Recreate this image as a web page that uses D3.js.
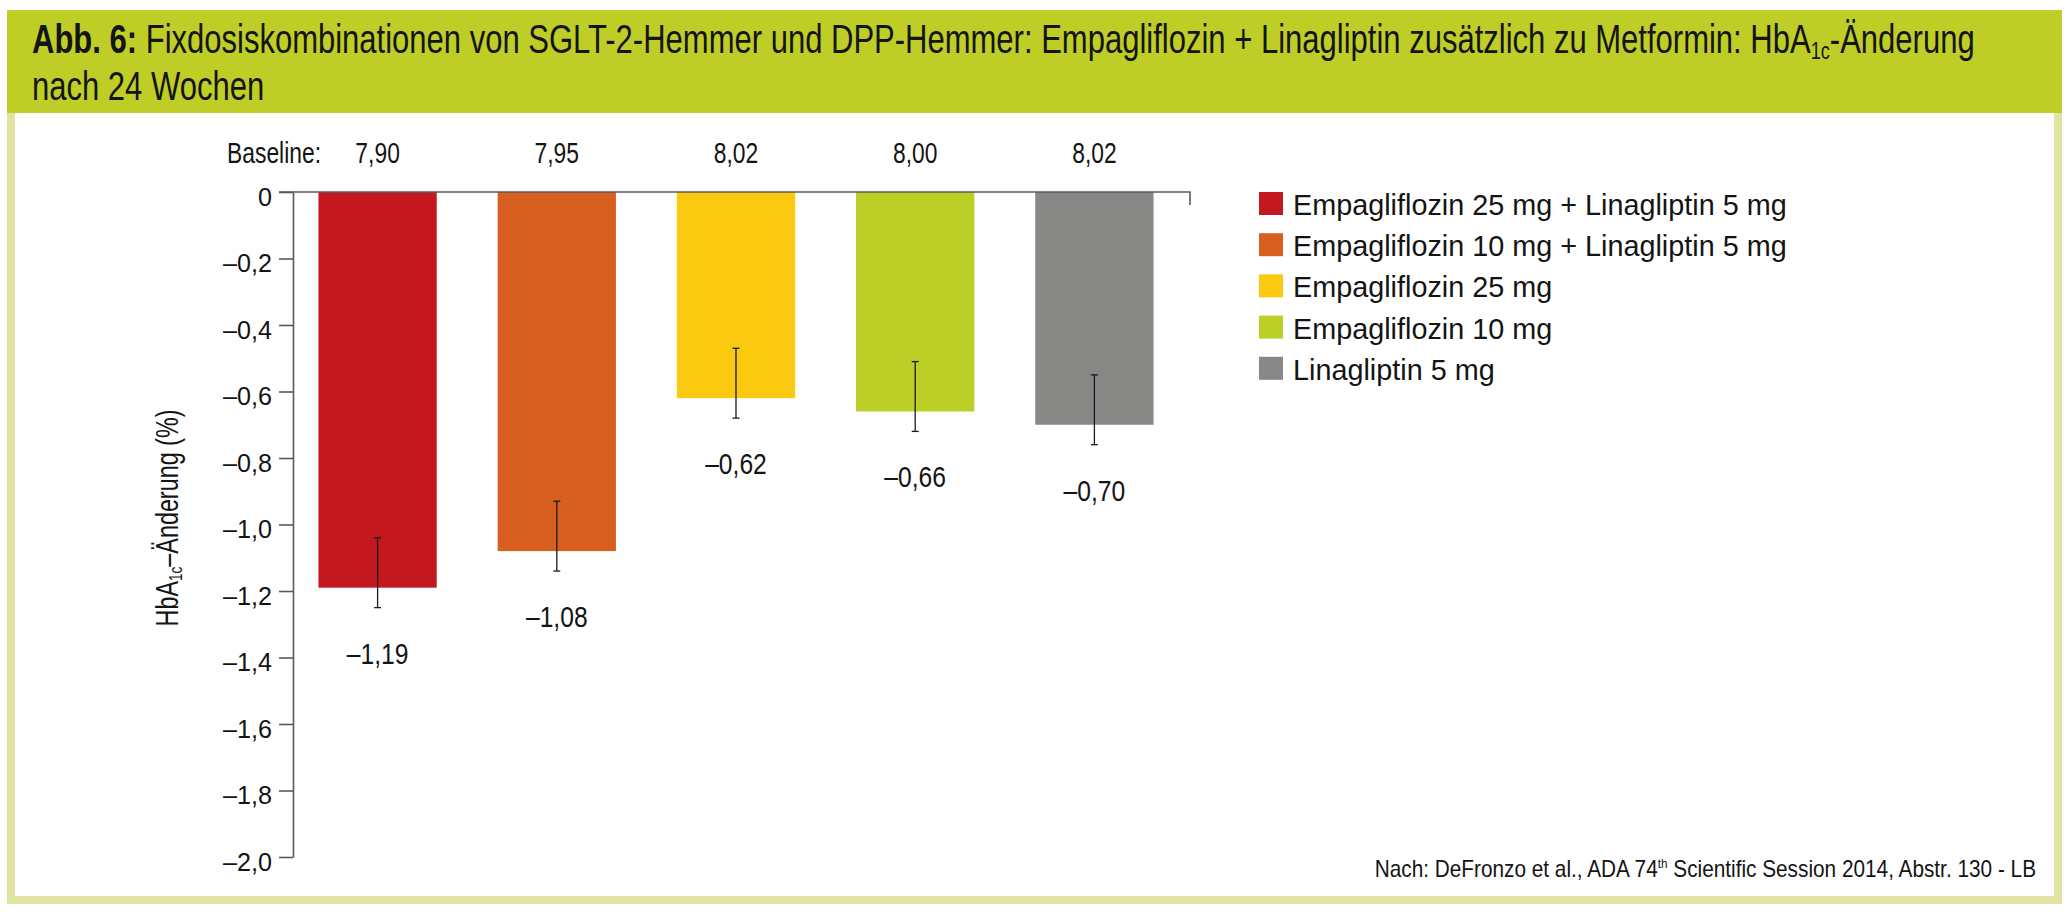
<!DOCTYPE html>
<html>
<head>
<meta charset="utf-8">
<script src="https://cdn.jsdelivr.net/npm/d3@7"></script>
<style>
  html, body { margin: 0; padding: 0; background: #ffffff; }
  svg { display: block; }
  text { fill: #141414; font-family: "Liberation Sans Narrow", "Liberation Sans", Arial, sans-serif; }
  .title text { font-size: 41px; }
  .legend text { font-size: 30px; }
  .base text { font-size: 30px; }
  .val text { font-size: 29px; }
  .foot text { font-size: 23px; }
  .ylab text { font-size: 31px; }
  .yaxis text { font-size: 26.5px; font-family: "Liberation Sans Narrow", "Liberation Sans", Arial, sans-serif; fill: #141414; }
</style>
</head>
<body>
<script>
// ---------------- data ----------------
const categories = [
  "Empagliflozin 25 mg + Linagliptin 5 mg",
  "Empagliflozin 10 mg + Linagliptin 5 mg",
  "Empagliflozin 25 mg",
  "Empagliflozin 10 mg",
  "Linagliptin 5 mg"
];
const changes   = [-1.19, -1.08, -0.62, -0.66, -0.70];
const baselines = [7.90, 7.95, 8.02, 8.00, 8.02];
const errLow    = [-1.25, -1.14, -0.68, -0.72, -0.76];
const errHigh   = [-1.04, -0.93, -0.47, -0.51, -0.55];
const yTicks    = [0, -0.2, -0.4, -0.6, -0.8, -1.0, -1.2, -1.4, -1.6, -1.8, -2.0];
const barColors = ["#c3181f", "#d95f20", "#fbc90f", "#bccf26", "#878785"];

// ---------------- setup ----------------
const W = 2072, H = 915;
const svg = d3.select("body").append("svg").attr("width", W).attr("height", H);

const fmtDec = (v, n) => (v < 0 ? "\u2013" : "") + Math.abs(v).toFixed(n).replace(".", ",");

// frame + title band
svg.append("rect").attr("x", 11).attr("y", 109).attr("width", 2047).attr("height", 791)
  .attr("fill", "none").attr("stroke", "#dfe5a0").attr("stroke-width", 8);
svg.append("rect").attr("x", 7).attr("y", 10).attr("width", 2055).attr("height", 103)
  .attr("fill", "#bfce26");

// helper for horizontally condensed labels
function lbl(cls, x, y, anchor, extra) {
  const g = svg.append("g").attr("class", "lbl " + cls)
    .datum({ x: x, y: y, extra: extra || "" })
    .attr("transform", `translate(${x},${y})${extra || ""}`);
  return g.append("text").attr("text-anchor", anchor || "start");
}

// ---------------- title ----------------
const t1 = lbl("title", 32, 53, "start");
t1.append("tspan").attr("font-weight", "bold").text("Abb. 6:");
t1.append("tspan").text(" Fixdosiskombinationen von SGLT-2-Hemmer und DPP-Hemmer: Empagliflozin + Linagliptin zus\u00e4tzlich zu Metformin: HbA");
t1.append("tspan").attr("font-size", "24px").attr("dy", 6).text("1c");
t1.append("tspan").attr("dy", -6).text("-\u00c4nderung");
lbl("title", 32, 100, "start").text("nach 24 Wochen");

// ---------------- scales ----------------
const x = d3.scaleBand().domain(categories).range([288, 1184])
  .paddingInner(0.34).paddingOuter(0.17);
const y = d3.scaleLinear().domain([-2.0, 0]).range([857, 192]);
const color = d3.scaleOrdinal().domain(categories).range(barColors);

const axisX = 293, axisEnd = 1190;

// bars
const rows = categories.map((c, i) => ({ c, v: changes[i], b: baselines[i], lo: errLow[i], hi: errHigh[i] }));
svg.append("g").selectAll("rect").data(rows).join("rect")
  .attr("x", d => x(d.c)).attr("width", x.bandwidth())
  .attr("y", y(0)).attr("height", d => y(d.v) - y(0))
  .attr("fill", d => color(d.c));

// y axis
const yAxis = svg.append("g").attr("class", "yaxis").attr("transform", `translate(${axisX},0)`)
  .call(d3.axisLeft(y).tickValues(yTicks).tickSize(14).tickSizeOuter(0).tickPadding(7)
    .tickFormat(d => d === 0 ? "0" : fmtDec(d, 1)));
yAxis.select(".domain").attr("stroke", "#5a5a5a").attr("stroke-width", 1.6);
yAxis.selectAll(".tick line").attr("stroke", "#5a5a5a").attr("stroke-width", 1.6);
yAxis.selectAll(".tick text").attr("dy", "0.5em");

// top zero line with right end tick
svg.append("path")
  .attr("d", d3.line()([[axisX - 14, y(0)], [axisEnd, y(0)], [axisEnd, y(0) + 13]]))
  .attr("fill", "none").attr("stroke", "#5a5a5a").attr("stroke-width", 1.6);

// error bars
const eb = svg.append("g").attr("stroke", "#1a1a1a").attr("stroke-width", 1.3);
rows.forEach(d => {
  const cx = x(d.c) + x.bandwidth() / 2;
  eb.append("line").attr("x1", cx).attr("x2", cx).attr("y1", y(d.hi)).attr("y2", y(d.lo));
  eb.append("line").attr("x1", cx - 3.5).attr("x2", cx + 3.5).attr("y1", y(d.hi)).attr("y2", y(d.hi));
  eb.append("line").attr("x1", cx - 3.5).attr("x2", cx + 3.5).attr("y1", y(d.lo)).attr("y2", y(d.lo));
});

// value labels
rows.forEach(d => {
  lbl("val", x(d.c) + x.bandwidth() / 2, y(d.lo) + 56, "middle").text(fmtDec(d.v, 2));
});

// baseline row
lbl("base", 321, 163, "end").text("Baseline:");
rows.forEach(d => {
  lbl("base", x(d.c) + x.bandwidth() / 2, 163, "middle").text(d.b.toFixed(2).replace(".", ","));
});

// y label
const yl = lbl("ylab", 178, 518, "middle", " rotate(-90)");
yl.append("tspan").text("HbA");
yl.append("tspan").attr("font-size", "18px").attr("dy", 4).text("1c");
yl.append("tspan").attr("dy", -4).text("\u2013\u00c4nderung (%)");

// legend
categories.forEach((c, i) => {
  const yy = 192 + i * 41.2;
  svg.append("rect").attr("x", 1259).attr("y", yy).attr("width", 24).attr("height", 23).attr("fill", color(c));
  lbl("legend", 1293, yy + 23, "start").text(c);
});

// footnote
const ft = lbl("foot", 2036, 877, "end");
ft.append("tspan").text("Nach: DeFronzo et al., ADA 74");
ft.append("tspan").attr("font-size", "13px").attr("dy", -9).text("th");
ft.append("tspan").attr("dy", 9).text(" Scientific Session 2014, Abstr. 130 - LB");

// ---------------- condense text to the reference widths ----------------
const targets = {
  title: [t1.node(), 1943],
  legend: [svg.select("g.legend text").node(), 494],
  base: [svg.select("g.base text").node(), 94],
  val: [svg.select("g.val text").node(), 61.7],
  foot: [ft.node(), 662],
  ylab: [yl.node(), 217]
};
Object.entries(targets).forEach(([cls, [node, tw]]) => {
  const w = node.getBBox().width;
  const sx = tw / w;
  svg.selectAll("g." + cls).attr("transform", d => `translate(${d.x},${d.y})${d.extra} scale(${sx},1)`);
});
// tick labels
const tickNode = yAxis.selectAll(".tick text").filter(d => d === -0.2).node();
const tsx = 49 / tickNode.getBBox().width;
yAxis.selectAll(".tick text").attr("transform", `scale(${tsx},1)`).attr("x", -21 / tsx);
</script>
</body>
</html>
